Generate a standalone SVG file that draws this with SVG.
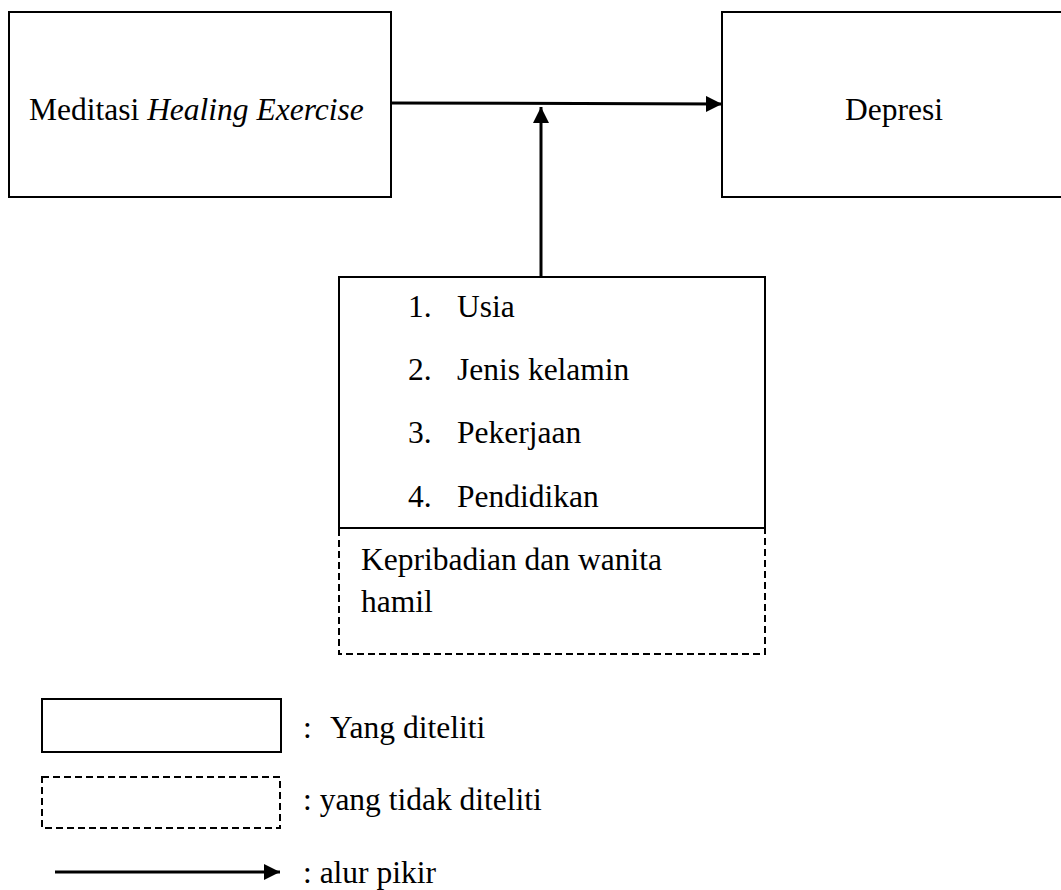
<svg xmlns="http://www.w3.org/2000/svg" width="1061" height="890" viewBox="0 0 1061 890">
<style>
.box{fill:#fff;stroke:#000;stroke-width:2}
.dash{fill:none;stroke:#000;stroke-width:2;stroke-dasharray:7,4}
.t{font-family:"Liberation Serif","Times New Roman",serif;font-size:31.5px;fill:#000}
.ln{stroke:#000;stroke-width:3;fill:none}
</style>
<defs>
<marker id="ah" viewBox="0 0 16 16" refX="16" refY="8" markerWidth="16" markerHeight="16" markerUnits="userSpaceOnUse" orient="auto">
<path d="M0,0 L16,8 L0,16 Z" fill="#000"/>
</marker>
</defs>
<rect width="1061" height="890" fill="#fff"/>
<g id="connectors">
<line class="ln" x1="391" y1="103" x2="722" y2="104" marker-end="url(#ah)"/>
<line class="ln" x1="541" y1="277" x2="541" y2="107" marker-end="url(#ah)"/>
</g>
<g id="node-meditasi">
<rect class="box" x="9" y="12" width="382" height="185"/>
<text class="t" x="29" y="120">Meditasi <tspan font-style="italic">Healing Exercise</tspan></text>
</g>
<g id="node-depresi">
<rect class="box" x="722" y="12" width="345" height="185"/>
<text class="t" x="845" y="120">Depresi</text>
</g>
<g id="node-faktor">
<rect class="box" x="339" y="277" width="426" height="251"/>
<text class="t" x="408" y="317">1.</text><text class="t" x="457" y="317">Usia</text>
<text class="t" x="408" y="380">2.</text><text class="t" x="457" y="380">Jenis kelamin</text>
<text class="t" x="408" y="443">3.</text><text class="t" x="457" y="443">Pekerjaan</text>
<text class="t" x="408" y="507">4.</text><text class="t" x="457" y="507">Pendidikan</text>
</g>
<g id="node-tidak">
<path class="dash" d="M339,529 V654 H765 V529"/>
<text class="t" x="361" y="570">Kepribadian dan wanita</text>
<text class="t" x="361" y="612">hamil</text>
</g>
<g id="legend">
<rect class="box" x="42" y="699" width="239" height="53"/>
<text class="t" x="303" y="738">:<tspan x="330">Yang diteliti</tspan></text>
<rect class="dash" x="42" y="777" width="238" height="51"/>
<text class="t" x="303" y="810">: yang tidak diteliti</text>
<line class="ln" x1="55" y1="872" x2="280" y2="872" marker-end="url(#ah)"/>
<text class="t" x="303" y="883">: alur pikir</text>
</g>
</svg>
